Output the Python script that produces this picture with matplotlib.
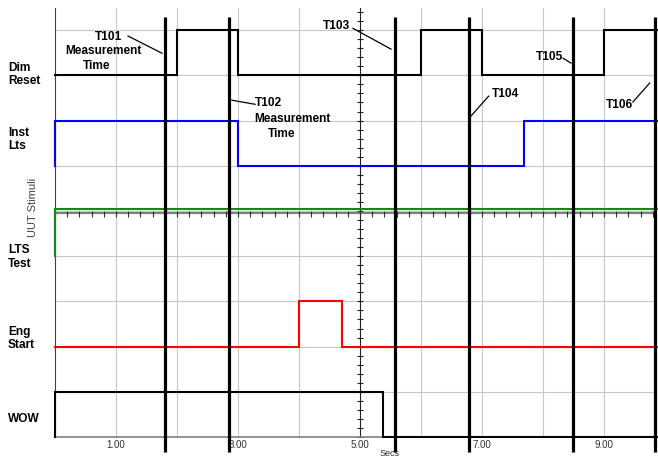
import numpy as np
import matplotlib
matplotlib.use("Agg")
import matplotlib.pyplot as plt

plt.rcParams['font.family'] = ['Liberation Sans', 'DejaVu Sans']

# signal traces: switching times (s) and the state after each switch (0 low / 1 high)
t_end = 9.87
wow_t = [0.0, 0.0, 5.38]
wow_s = [0, 1, 0]
eng_t = [0.0, 4.0, 4.70]
eng_s = [0, 1, 0]
lts_t = [0.0, 0.0]
lts_s = [0, 1]
inst_t = [0.0, 0.0, 3.0, 7.69]
inst_s = [0, 1, 0, 1]
dim_t = [0.0, 2.0, 3.0, 6.0, 7.0, 9.0]
dim_s = [0, 1, 0, 1, 0, 1]

# base level (grid row) of each trace
wow_base = 0
eng_base = 2
lts_base = 4
inst_base = 6
dim_base = 8

# measurement cursor positions (s)
cursors = [1.80, 2.86, 5.58, 6.78, 8.49, 9.83]

xtick_vals = [1, 3, 5, 7, 9]


def step_xy(ts, ss, base):
    xs, ys = [], []
    for i, (t, s) in enumerate(zip(ts, ss)):
        if i > 0:
            xs.append(t)
            ys.append(base + ss[i - 1])
        xs.append(t)
        ys.append(base + s)
    xs.append(t_end)
    ys.append(base + ss[-1])
    return xs, ys


fig = plt.figure(figsize=(6.58, 4.59), dpi=100)
ax = fig.add_axes([55 / 658, 22 / 459, 602 / 658, 429 / 459])
ax.set_xlim(0, t_end)
ax.set_ylim(0, 9.49)

# grid
for g in range(1, 10):
    if g != 5:
        ax.axvline(g, color='#c8c8c8', lw=0.8, zorder=1)
    ax.axhline(g, color='#c8c8c8', lw=0.8, zorder=1)

# centre axes with minor ticks
ax.axvline(5, color='#202020', lw=0.8, zorder=2)
vt = np.arange(0, 9.5, 0.2)
ax.plot(np.full(len(vt), 5.0), vt, ls='none', marker='_', ms=5, mew=0.8,
        color='#202020', zorder=2)
ax.axhline(4.96, color='#808080', lw=1.6, zorder=2)
ht = np.arange(0, t_end, 0.2)
ax.plot(ht, np.full(len(ht), 4.93), ls='none', marker='|', ms=4, mew=0.8,
        color='#303030', zorder=2)

for ts, ss, base, col in [(wow_t, wow_s, wow_base, 'black'),
                          (eng_t, eng_s, eng_base, '#ff0000'),
                          (lts_t, lts_s, lts_base, '#108a10'),
                          (inst_t, inst_s, inst_base, '#0000ff'),
                          (dim_t, dim_s, dim_base, 'black')]:
    xs, ys = step_xy(ts, ss, base)
    if base == lts_base:
        ys = [y + 0.05 if y > base else y for y in ys]
    ax.plot(xs, ys, color=col, lw=1.5, zorder=4, clip_on=False,
            solid_joinstyle='miter')

for c in cursors:
    ax.plot([c, c], [-0.33, 9.29], color='black', lw=2.3, zorder=5,
            clip_on=False, solid_capstyle='butt')

# spines and ticks
for s in ['top', 'right']:
    ax.spines[s].set_visible(False)
ax.spines['left'].set_color('#404040')
ax.spines['bottom'].set_color('#808080')
ax.spines['bottom'].set_linewidth(1.2)
ax.set_yticks([])
ax.set_xticks(xtick_vals)
ax.set_xticklabels(['%.2f' % v for v in xtick_vals])
ax.tick_params(axis='x', length=0, pad=2, labelsize=7, labelcolor='#303030')
fig.text(390 / 658, 0.5 / 459, 'Secs', ha='center', va='bottom', fontsize=6.5,
         color='#303030')

fig.text(33 / 658, 1 - 207 / 459, 'UUT Stimuli', rotation=90, ha='center',
         va='center', fontsize=8, color='#404040')

# row labels
rows = [('Dim\nReset', 74.5), ('Inst\nLts', 139.5), ('LTS\nTest', 257),
        ('Eng\nStart', 338.5), ('WOW', 419)]
for lab, ypx in rows:
    fig.text(8 / 658, 1 - ypx / 459, lab, ha='left', va='center', fontsize=8.6,
             fontweight='bold', linespacing=1.2)

# cursor annotations
bold = dict(fontsize=8.6, fontweight='bold', ha='center', va='center',
            zorder=6)
ax.text(0.885, 8.85, 'T101', **bold)
ax.text(0.787, 8.54, 'Measurement', **bold)
ax.text(0.689, 8.20, 'Time', **bold)
ax.plot([1.197, 1.754], [8.87, 8.49], color='black', lw=0.9, zorder=6)

ax.text(3.28, 7.39, 'T102', fontsize=8.6, fontweight='bold', ha='left',
        va='center', zorder=6)
ax.text(3.885, 7.03, 'Measurement', **bold)
ax.text(3.72, 6.70, 'Time', **bold)
ax.plot([2.90, 3.28], [7.45, 7.36], color='black', lw=0.9, zorder=6)

ax.text(4.61, 9.09, 'T103', **bold)
ax.plot([4.885, 5.51], [9.04, 8.58], color='black', lw=0.9, zorder=6)

ax.text(7.39, 7.585, 'T104', **bold)
ax.plot([6.82, 7.11], [7.10, 7.54], color='black', lw=0.9, zorder=6)

ax.text(8.11, 8.40, 'T105', **bold)
ax.plot([8.33, 8.46], [8.38, 8.27], color='black', lw=0.9, zorder=6)

ax.text(9.25, 7.34, 'T106', **bold)
ax.plot([9.475, 9.75], [7.41, 7.83], color='black', lw=0.9, zorder=6)

fig.savefig('out.png', dpi=100)
